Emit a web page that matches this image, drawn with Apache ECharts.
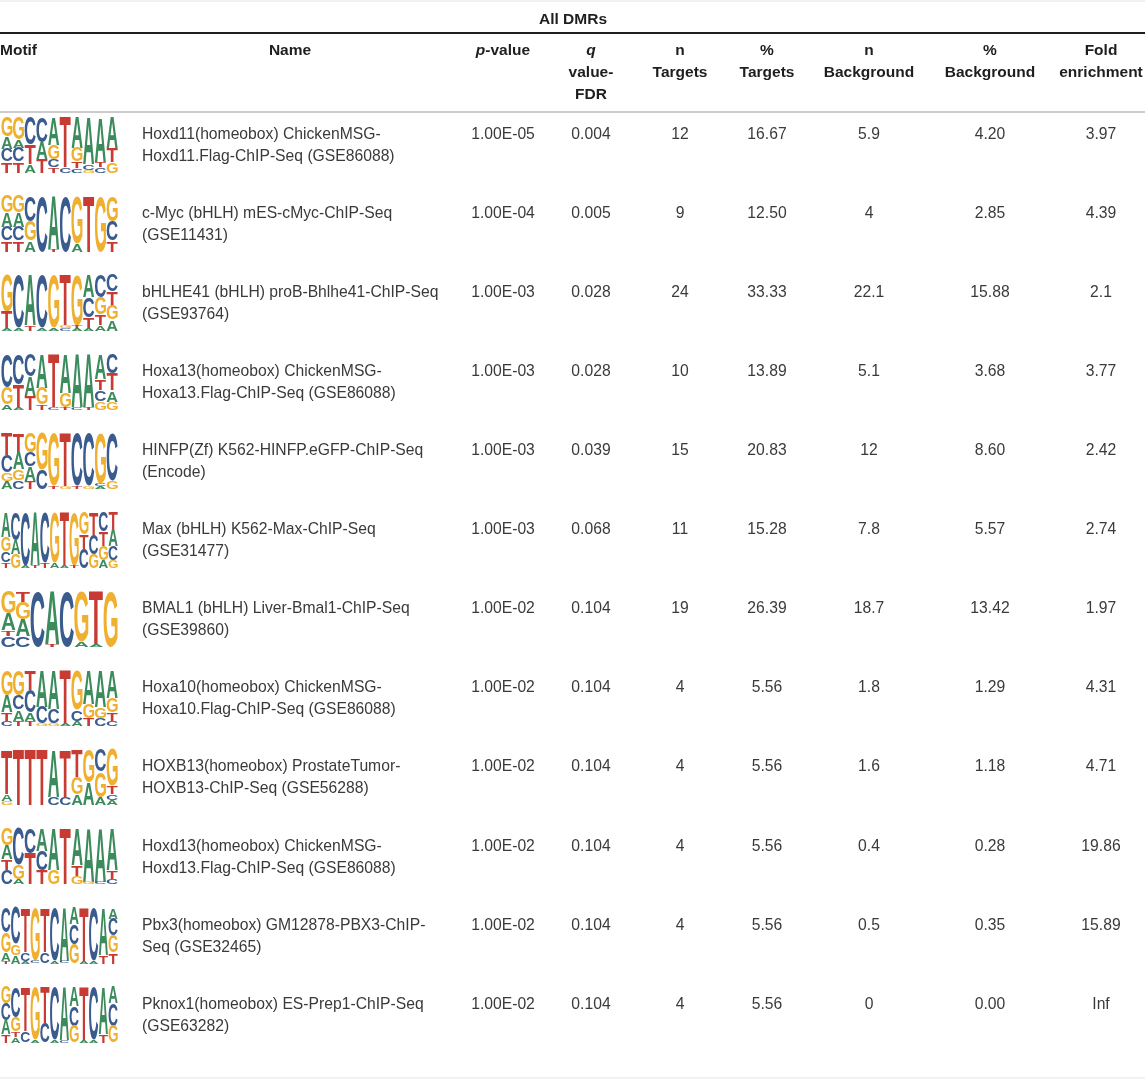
<!DOCTYPE html>
<html lang="en">
<head>
    <meta charset="UTF-8">
    <title>All DMRs motif enrichment</title>
    <script src="https://cdn.jsdelivr.net/npm/echarts@6/dist/echarts.min.js"></script>
    <style>
        html, body { margin: 0; padding: 0; background: #fff; }
        #table { width: 1145px; height: 1080px; }
    </style>
</head>
<body>
<div id="table"></div>
<script type="text/javascript">
    // table data, one entry per motif row
    const motifNames = [
        'Hoxd11(homeobox) ChickenMSG-\nHoxd11.Flag-ChIP-Seq (GSE86088)',
        'c-Myc (bHLH) mES-cMyc-ChIP-Seq\n(GSE11431)',
        'bHLHE41 (bHLH) proB-Bhlhe41-ChIP-Seq\n(GSE93764)',
        'Hoxa13(homeobox) ChickenMSG-\nHoxa13.Flag-ChIP-Seq (GSE86088)',
        'HINFP(Zf) K562-HINFP.eGFP-ChIP-Seq\n(Encode)',
        'Max (bHLH) K562-Max-ChIP-Seq\n(GSE31477)',
        'BMAL1 (bHLH) Liver-Bmal1-ChIP-Seq\n(GSE39860)',
        'Hoxa10(homeobox) ChickenMSG-\nHoxa10.Flag-ChIP-Seq (GSE86088)',
        'HOXB13(homeobox) ProstateTumor-\nHOXB13-ChIP-Seq (GSE56288)',
        'Hoxd13(homeobox) ChickenMSG-\nHoxd13.Flag-ChIP-Seq (GSE86088)',
        'Pbx3(homeobox) GM12878-PBX3-ChIP-\nSeq (GSE32465)',
        'Pknox1(homeobox) ES-Prep1-ChIP-Seq\n(GSE63282)'
    ];
    const pValues = ['1.00E-05', '1.00E-04', '1.00E-03', '1.00E-03', '1.00E-03', '1.00E-03',
        '1.00E-02', '1.00E-02', '1.00E-02', '1.00E-02', '1.00E-02', '1.00E-02'];
    const qValues = ['0.004', '0.005', '0.028', '0.028', '0.039', '0.068',
        '0.104', '0.104', '0.104', '0.104', '0.104', '0.104'];
    const nTargets = ['12', '9', '24', '10', '15', '11', '19', '4', '4', '4', '4', '4'];
    const pctTargets = ['16.67', '12.50', '33.33', '13.89', '20.83', '15.28', '26.39',
        '5.56', '5.56', '5.56', '5.56', '5.56'];
    const nBackground = ['5.9', '4', '22.1', '5.1', '12', '7.8', '18.7', '1.8', '1.6', '0.4', '0.5', '0'];
    const pctBackground = ['4.20', '2.85', '15.88', '3.68', '8.60', '5.57', '13.42',
        '1.29', '1.18', '0.28', '0.35', '0.00'];
    const foldEnrichment = ['3.97', '4.39', '2.1', '3.77', '2.42', '2.74', '1.97',
        '4.31', '4.71', '19.86', '15.89', 'Inf'];

    // sequence logos: one string per position, letters top to bottom with their share (%)
    const logoColumns = [
        ['G35A22C23T20', 'G40A15C25T20', 'C50T35A15', 'C45A30T25', 'A50G25C15T10', 'T90C10', 'A55G25T12C8', 'A85C10G5', 'A80T10C10', 'A55T25G20'],
        ['G30A25C25T20', 'G30A25C25T20', 'C45G35A20', 'C100', 'A95T5', 'C100', 'G85A15', 'T100', 'G100', 'G45C35T20'],
        ['G65T30A5', 'C95A5', 'A90T10', 'C95A5', 'G95A5', 'T90G5C5', 'G90T5A5', 'A40C35T20A5', 'C40G30T20A10', 'C30T25G25A20'],
        ['C60G30A10', 'C55T40A5', 'C40A35T25', 'A60G30T10', 'T95C5', 'A70G25T5', 'A95C5', 'A95T5', 'A45T20C20G15', 'C35T30A20G15'],
        ['T40C30G15A15', 'T35A30G20C15', 'G35C25A25T15', 'G65C35', 'G95T5', 'T95G5', 'C95T5', 'C95G5', 'G90C5A5', 'C85G15'],
        ['A45G25C20T10', 'C50A25G25', 'C95A5', 'A95T5', 'C90T10', 'G90A10', 'T95A5', 'G95T5', 'G40T25C35', 'T40C35G25', 'C35T25G25A15', 'T30A30C25G15'],
        ['G40A30T10C20', 'T20G30A30C20', 'C100', 'A95T5', 'C100', 'G90A10', 'T95A5', 'G100'],
        ['G45A30T15C10', 'G45C25A20T10', 'T35C40A15T10', 'A65C30G5', 'A70C25G5', 'T95A5', 'G70C20A10', 'A60G25T15', 'A65G20C15', 'A50G25T15C10'],
        ['T80A12G8', 'T100', 'T100', 'T100', 'A85C15', 'T85C15', 'T50G30A20', 'G60A40', 'C40G45A15', 'G65T15C10A10'],
        ['G30A25T20C25', 'C65G25A10', 'C45T55', 'A40C35T25', 'A75G25', 'T100', 'A65T20G15', 'A95G5', 'A95C5', 'A75T15C10'],
        ['C45G35A15T5', 'C65G20A15', 'T80C15A5', 'G95C5', 'T80C20', 'C95A5', 'A95C5', 'A30C35G35', 'T95A5', 'C95A5', 'A85T15', 'A20C30G30T20'],
        ['G30C30A25T15', 'C55G25T10A10', 'T80C20', 'G95A5', 'T65C35', 'C95A5', 'A95C5', 'A35C35G30', 'T95A5', 'C95A5', 'A85T15', 'A30C40G30']
    ];

    const tableTitle = 'All DMRs';
    const headerLabels = [
        ['Motif'], ['Name'], ['{i|p}{b|-value}'], ['{i|q}', 'value-', 'FDR'], ['n', 'Targets'],
        ['%', 'Targets'], ['n', 'Background'], ['%', 'Background'], ['Fold', 'enrichment']
    ];

    // layout
    const W = 1145, H = 1080;
    const colX = [0, 142, 503, 591, 680, 767, 869, 990, 1101];
    const headTop = 112, bodyBottom = 1061;
    const logoWidth = 117, logoHeight = 56;
    const FONT = '"Liberation Sans", Arial, Helvetica, sans-serif';
    const BODY_FONT = '15.7px ' + FONT;
    const HEAD_FONT = 'bold 15.5px ' + FONT;
    const baseColors = { A: '#3b8b5d', C: '#3a5b8e', G: '#efb02f', T: '#c73b33' };

    // glyph bounds, used to stretch a letter into its box
    const LOGO_FONT = 'bold 100px ' + FONT;
    const measureCtx = document.createElement('canvas').getContext('2d');
    const glyphCache = {};
    function glyphBox(letter) {
        if (!glyphCache[letter]) {
            measureCtx.font = LOGO_FONT;
            measureCtx.textBaseline = 'middle';
            measureCtx.textAlign = 'left';
            const m = measureCtx.measureText(letter);
            glyphCache[letter] = {
                asc: m.actualBoundingBoxAscent, desc: m.actualBoundingBoxDescent,
                left: m.actualBoundingBoxLeft, right: m.actualBoundingBoxRight
            };
        }
        return glyphCache[letter];
    }

    function parseColumn(str) {
        const out = [];
        str.replace(/([ACGT])(\d+)/g, function (_, l, v) { out.push([l, +v]); return ''; });
        return out;
    }

    const rowIds = motifNames.map(function (n, i) { return 'row' + i; });
    const rowData = motifNames.map(function (n, i) { return [0, i]; });

    function renderCells(params, api) {
        const i = api.value(1);
        const centerY = api.coord([0, i])[1];
        const bandH = api.size([0, 1])[1];
        const y1 = centerY - bandH / 2 + 22.5;
        const cells = [pValues[i], qValues[i], nTargets[i], pctTargets[i], nBackground[i], pctBackground[i], foldEnrichment[i]];
        const children = [{
            type: 'text',
            x: api.coord([colX[1], i])[0],
            y: y1 - 11,
            style: {
                text: motifNames[i], font: BODY_FONT, fill: '#3a3a3a',
                align: 'left', verticalAlign: 'top', lineHeight: 22
            }
        }];
        cells.forEach(function (t, k) {
            children.push({
                type: 'text',
                x: api.coord([colX[k + 2], i])[0],
                y: y1,
                style: { text: t, font: BODY_FONT, fill: '#3a3a3a', align: 'center', verticalAlign: 'middle' }
            });
        });
        return { type: 'group', children: children };
    }

    function renderLogo(params, api) {
        const i = api.value(1);
        const centerY = api.coord([0, i])[1];
        const bandH = api.size([0, 1])[1];
        const top = centerY - bandH / 2 + 5;
        const x0 = api.coord([1, i])[0];
        const cols = logoColumns[i];
        const colW = api.size([logoWidth, 0])[0] / cols.length;
        const children = [];
        cols.forEach(function (colStr, c) {
            const parts = parseColumn(colStr);
            const total = parts.reduce(function (s, p) { return s + p[1]; }, 0);
            let y = top;
            parts.forEach(function (p) {
                const h = logoHeight * p[1] / total;
                if (h < 0.8) { y += h; return; }
                const g = glyphBox(p[0]);
                const w = colW - 0.6;
                const sx = w / (g.left + g.right);
                const sy = (h - 0.3) / (g.asc + g.desc);
                children.push({
                    type: 'text',
                    x: x0 + c * colW + 0.3 + g.left * sx,
                    y: y + g.asc * sy,
                    scaleX: sx,
                    scaleY: sy,
                    style: { text: p[0], font: LOGO_FONT, fill: baseColors[p[0]], align: 'left', verticalAlign: 'middle' }
                });
                y += h;
            });
        });
        return { type: 'group', children: children };
    }

    // header texts and rules
    const graphics = [
        { type: 'line', shape: { x1: 0, y1: 1, x2: W, y2: 1 }, style: { stroke: '#e4e4e4', lineWidth: 1 } },
        { type: 'line', shape: { x1: 0, y1: 33, x2: W, y2: 33 }, style: { stroke: '#1e1e1e', lineWidth: 2 } },
        { type: 'line', shape: { x1: 0, y1: headTop, x2: W, y2: headTop }, style: { stroke: '#cccccc', lineWidth: 2 } },
        { type: 'line', shape: { x1: 0, y1: 1078, x2: W, y2: 1078 }, style: { stroke: '#e4e4e4', lineWidth: 1 } },
        {
            type: 'text', x: 573, y: 20,
            style: { text: tableTitle, font: HEAD_FONT, fill: '#1e1e1e', align: 'center', verticalAlign: 'middle' }
        }
    ];
    headerLabels.forEach(function (lines, k) {
        lines.forEach(function (line, j) {
            const x = k === 0 ? colX[0] : (k === 1 ? 290 : colX[k]);
            graphics.push({
                type: 'text', x: x, y: 51 + j * 22,
                style: {
                    text: line, font: HEAD_FONT, fill: '#1e1e1e',
                    align: k === 0 ? 'left' : 'center', verticalAlign: 'middle',
                    rich: {
                        i: { fontStyle: 'italic', fontWeight: 'bold', fontSize: 15.5, fontFamily: FONT, fill: '#1e1e1e' },
                        b: { fontWeight: 'bold', fontSize: 15.5, fontFamily: FONT, fill: '#1e1e1e' }
                    }
                }
            });
        });
    });

    const option = {
        animation: false,
        grid: { left: 0, right: 0, top: headTop, bottom: H - bodyBottom },
        xAxis: { type: 'value', min: 0, max: W, show: false },
        yAxis: { type: 'category', data: rowIds, inverse: true, show: false },
        graphic: graphics,
        series: [
            {
                type: 'custom', name: 'cells', silent: true, clip: false,
                encode: { x: 0, y: 1 }, data: rowData, renderItem: renderCells
            },
            {
                type: 'custom', name: 'logos', silent: true, clip: false,
                encode: { x: 0, y: 1 }, data: rowData, renderItem: renderLogo
            }
        ]
    };

    const myChart = echarts.init(document.getElementById('table'));
    myChart.setOption(option);
</script>
</body>
</html>
